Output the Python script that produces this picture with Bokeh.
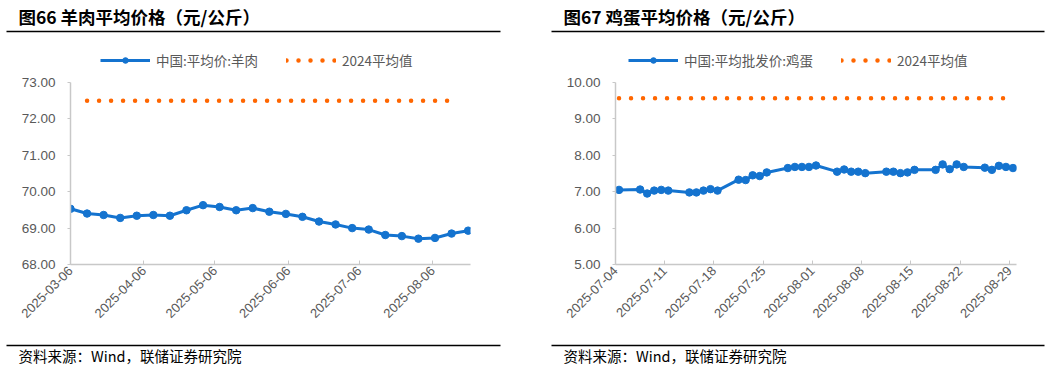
import pandas as pd
from math import pi
from bokeh.plotting import figure
from bokeh.layouts import row, column
from bokeh.models import (Range1d, FixedTicker, DatetimeTickFormatter, NumeralTickFormatter,
                          Legend, LegendItem)
from bokeh.core.properties import value
from bokeh.embed import file_html
from bokeh.resources import INLINE

# ---------------- data ----------------
mutton_title = "图66 羊肉平均价格（元/公斤）"
mutton_name = "中国:平均价:羊肉"
mutton_dates = ["2025-03-06", "2025-03-13", "2025-03-20", "2025-03-27", "2025-04-03",
                "2025-04-10", "2025-04-17", "2025-04-24", "2025-05-01", "2025-05-08",
                "2025-05-15", "2025-05-22", "2025-05-29", "2025-06-05", "2025-06-12",
                "2025-06-19", "2025-06-26", "2025-07-03", "2025-07-10", "2025-07-17",
                "2025-07-24", "2025-07-31", "2025-08-07", "2025-08-14", "2025-08-21"]
mutton_values = [69.53, 69.40, 69.36, 69.28, 69.34, 69.36, 69.34, 69.49, 69.63, 69.58,
                 69.49, 69.55, 69.45, 69.39, 69.31, 69.18, 69.10, 69.00, 68.96, 68.81,
                 68.78, 68.71, 68.73, 68.85, 68.93]
mutton_avg_dates = ["2025-03-13", "2025-08-14"]
mutton_avg_values = [72.5, 72.5]
mutton_xticks = ["2025-03-06", "2025-04-06", "2025-05-06", "2025-06-06", "2025-07-06", "2025-08-06"]
mutton_xrange = ["2025-03-06", "2025-08-22"]
mutton_yticks = [68, 69, 70, 71, 72, 73]

egg_title = "图67 鸡蛋平均价格（元/公斤）"
egg_name = "中国:平均批发价:鸡蛋"
egg_dates = ["2025-07-04", "2025-07-07", "2025-07-08", "2025-07-09", "2025-07-10", "2025-07-11",
             "2025-07-14", "2025-07-15", "2025-07-16", "2025-07-17", "2025-07-18",
             "2025-07-21", "2025-07-22", "2025-07-23", "2025-07-24", "2025-07-25",
             "2025-07-28", "2025-07-29", "2025-07-30", "2025-07-31", "2025-08-01",
             "2025-08-04", "2025-08-05", "2025-08-06", "2025-08-07", "2025-08-08",
             "2025-08-11", "2025-08-12", "2025-08-13", "2025-08-14", "2025-08-15",
             "2025-08-18", "2025-08-19", "2025-08-20", "2025-08-21", "2025-08-22",
             "2025-08-25", "2025-08-26", "2025-08-27", "2025-08-28", "2025-08-29"]
egg_values = [7.05, 7.06, 6.95, 7.03, 7.05, 7.03,
              6.98, 6.98, 7.03, 7.07, 7.03,
              7.33, 7.32, 7.45, 7.43, 7.53,
              7.65, 7.68, 7.68, 7.68, 7.72,
              7.55, 7.61, 7.55, 7.55, 7.51,
              7.55, 7.55, 7.51, 7.53, 7.60,
              7.60, 7.75, 7.62, 7.75, 7.68,
              7.66, 7.60, 7.71, 7.68, 7.65]
egg_avg_dates = ["2025-07-04", "2025-08-29"]
egg_avg_values = [9.57, 9.57]
egg_xticks = ["2025-07-04", "2025-07-11", "2025-07-18", "2025-07-25", "2025-08-01",
              "2025-08-08", "2025-08-15", "2025-08-22", "2025-08-29"]
egg_xrange = ["2025-07-04", "2025-08-30"]
egg_yticks = [5, 6, 7, 8, 9, 10]

source_note = "资料来源：Wind，联储证券研究院"
avg_name = "2024平均值"

# ---------------- style ----------------
BLUE = "#1473cf"
ORANGE = "#ff6600"
GREY_TXT = "#595959"
AXIS_COL = "#c8c8c8"
NUM_FONT = "Liberation Sans"
CJK_FONT = "Noto Sans CJK SC"
W = 1056
HALF = 528
HEAD_H = 74
MAIN_H = 264
FOOT_H = 32


def ms(d):
    return pd.Timestamp(d).value // 10**6


def blank_fig(width, height):
    f = figure(width=width, height=height, x_range=Range1d(0, width),
               y_range=Range1d(height, 0), x_axis_location=None, y_axis_location=None,
               output_backend="svg", toolbar_location=None, min_border=0)
    f.outline_line_color = None
    f.grid.visible = False
    return f


def draw_series(f, dates, values, avg_dates, avg_values, half_day_shift, visible=True):
    x = pd.to_datetime(dates)
    xa = pd.to_datetime(avg_dates)
    if half_day_shift:
        x = x + pd.Timedelta(hours=12)
        xa = xa + pd.Timedelta(hours=12)
    r_avg = f.line(xa, avg_values, line_color=ORANGE, line_width=4.5,
                   line_dash="0 12", line_cap="round", visible=visible)
    r_line = f.line(x, values, line_color=BLUE, line_width=3, visible=visible)
    r_pts = f.scatter(x, values, size=7.5, fill_color=BLUE, line_color=BLUE, visible=visible)
    return r_avg, r_line, r_pts


# ---------------- header: titles, rules, legends ----------------
head = blank_fig(W, HEAD_H)
head.text(x=[18, 563], y=[16, 16], text=[mutton_title, egg_title],
          text_font=value(CJK_FONT), text_font_style="bold", text_font_size="17.5px",
          text_color="black", text_baseline="middle", text_align="left")
head.segment(x0=[6, 551], y0=[31, 31], x1=[500, 1044], y1=[31, 31],
             line_color="black", line_width=1.3)

for name, dates, values, adates, avalues, lx in [
        (mutton_name, mutton_dates, mutton_values, mutton_avg_dates, mutton_avg_values, 100),
        (egg_name, egg_dates, egg_values, egg_avg_dates, egg_avg_values, 628)]:
    # hidden copies of the series: they only supply the legend's swatches
    r_avg, r_line, r_pts = draw_series(head, dates, values, adates, avalues, False, visible=False)
    lg = Legend(items=[LegendItem(label=name, renderers=[r_line, r_pts]),
                       LegendItem(label=avg_name, renderers=[r_avg])],
                orientation="horizontal", location=(lx, 4),
                glyph_width=50, glyph_height=14, label_height=14,
                label_standoff=6, spacing=28, padding=0, margin=0,
                border_line_color=None, background_fill_alpha=0,
                label_text_color=GREY_TXT, label_text_font=CJK_FONT,
                label_text_font_size="13.5px")
    head.add_layout(lg, "center")


# ---------------- main charts ----------------
def make_panel(dates, values, avg_dates, avg_values, xticks, xrange_, yticks,
               border_left, border_right, half_day_shift):
    p = figure(width=HALF, height=MAIN_H, x_axis_type="datetime",
               x_range=Range1d(ms(xrange_[0]), ms(xrange_[1])),
               y_range=Range1d(yticks[0], yticks[-1]),
               output_backend="svg", toolbar_location=None,
               min_border_left=border_left, min_border_right=border_right,
               min_border_top=8, min_border_bottom=74)
    p.outline_line_color = None
    p.grid.visible = False

    xa_ = p.xaxis[0]
    xa_.ticker = FixedTicker(ticks=[ms(t) for t in xticks])
    xa_.formatter = DatetimeTickFormatter(days="%Y-%m-%d", months="%Y-%m-%d",
                                          hours="%Y-%m-%d", years="%Y-%m-%d")
    xa_.major_label_orientation = pi / 4
    xa_.major_tick_in = 4
    xa_.major_tick_out = 0
    xa_.minor_tick_line_color = None
    xa_.axis_line_color = AXIS_COL
    xa_.axis_line_width = 1.5
    xa_.major_tick_line_color = AXIS_COL
    xa_.major_label_text_color = GREY_TXT
    xa_.major_label_text_font = NUM_FONT
    xa_.major_label_text_font_size = "13px"
    xa_.major_label_standoff = 4

    ya = p.yaxis[0]
    ya.ticker = FixedTicker(ticks=yticks)
    ya.formatter = NumeralTickFormatter(format="0.00")
    ya.major_tick_in = 0
    ya.major_tick_out = 3
    ya.minor_tick_line_color = None
    ya.axis_line_color = AXIS_COL
    ya.axis_line_width = 1.5
    ya.major_tick_line_color = AXIS_COL
    ya.major_label_text_color = GREY_TXT
    ya.major_label_text_font = NUM_FONT
    ya.major_label_text_font_size = "13.5px"
    ya.major_label_standoff = 12

    draw_series(p, dates, values, avg_dates, avg_values, half_day_shift)
    return p


p1 = make_panel(mutton_dates, mutton_values, mutton_avg_dates, mutton_avg_values,
                mutton_xticks, mutton_xrange, mutton_yticks, 70, 58, False)
p2 = make_panel(egg_dates, egg_values, egg_avg_dates, egg_avg_values,
                egg_xticks, egg_xrange, egg_yticks, 87, 40, True)

# ---------------- footer: rules and source notes ----------------
foot = blank_fig(W, FOOT_H)
foot.segment(x0=[6, 551], y0=[7, 7], x1=[500, 1044], y1=[7, 7],
             line_color="black", line_width=1.3)
foot.text(x=[18, 563], y=[17, 17], text=[source_note, source_note],
          text_font=value(CJK_FONT), text_font_size="14.5px",
          text_color="black", text_baseline="middle", text_align="left")

layout = column(head, row(p1, p2), foot)
open("out.html", "w").write(file_html(layout, INLINE))
